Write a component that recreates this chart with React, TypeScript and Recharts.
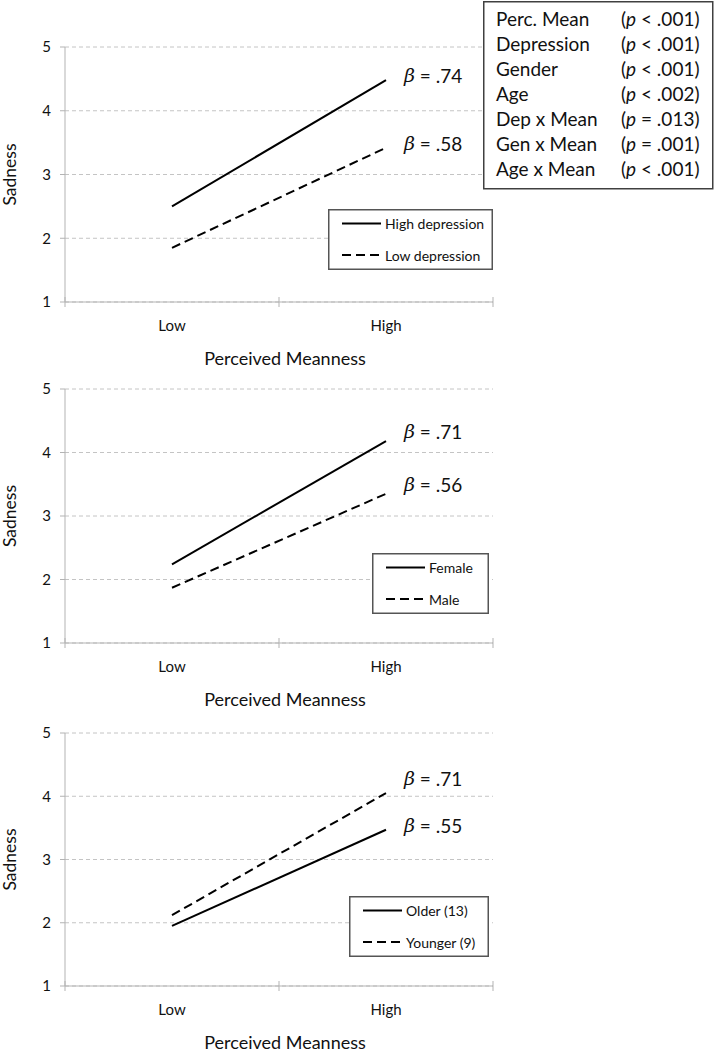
import React from 'react';
import { LineChart, Line, XAxis, YAxis, CartesianGrid, Legend, Label, LabelList } from 'recharts';

const FONT = 'Lato, "Open Sans", sans-serif';
const TEXT = '#111';
const AXIS = '#b3b3b3';
const GRID = '#c4c4c4';

// categories and ticks
const categories = ['Low', 'High'];
const yTicks = [1, 2, 3, 4, 5];
const xTicks = [0, 1, 2, 3, 4];

// series values (Sadness at Low / High perceived meanness)
const highDepression = [2.5, 4.48];
const lowDepression = [1.85, 3.42];
const female = [2.24, 4.18];
const male = [1.87, 3.35];
const older = [1.95, 3.47];
const younger = [2.12, 4.05];

// slope labels
const depBetas = ['.74', '.58'];
const genBetas = ['.71', '.56'];
const ageBetas = ['.55', '.71'];

// significance box
const termLabels = ['Perc. Mean', 'Depression', 'Gender', 'Age', 'Dep x Mean', 'Gen x Mean', 'Age x Mean'];
const pSigns = ['<', '<', '<', '<', '=', '=', '<'];
const pValues = ['.001', '.001', '.001', '.002', '.013', '.001', '.001'];

type Series = { name: string; values: number[]; beta: string; dashed: boolean; betaDy: number };

const buildData = (a: number[], b: number[]) =>
  categories.map((c, i) => ({ cat: c, pos: 2 * i + 1, a: a[i], b: b[i] }));

const XTick = (props: any) => {
  const { x, y, payload } = props;
  const v = payload.value;
  if (v % 2 === 1) {
    return (
      <text x={x} y={y + 23} textAnchor="middle" dominantBaseline="central" fontFamily={FONT} fontSize={15} fill={TEXT}>
        {categories[(v - 1) / 2]}
      </text>
    );
  }
  return <line x1={x} x2={x} y1={y - 5} y2={y + 5} stroke={AXIS} strokeWidth={1} />;
};

const BetaLabel = (beta: string, dy: number) => (p: any) => {
  if (p.index !== categories.length - 1) return null;
  const vb = p.viewBox || {};
  const x = vb.x ?? p.x;
  const y = vb.y ?? p.y;
  return (
    <text x={x + 18} y={y + dy} dominantBaseline="central" fontFamily={FONT} fontSize={19} fill={TEXT}>
      <tspan fontFamily="'DejaVu Serif', serif" fontStyle="italic">β</tspan>
      <tspan>{' = ' + beta}</tspan>
    </text>
  );
};

const LegendBox = ({ entries, width, height }: { entries: Series[]; width: number; height: number }) => (
  <svg width={width} height={height} style={{ display: 'block' }}>
    <rect x={0.75} y={0.75} width={width - 1.5} height={height - 1.5} fill="#fff" stroke="#555" strokeWidth={1.5} />
    {entries.map((e, i) => {
      const cy = 14.5 + i * 31.5;
      return (
        <g key={e.name}>
          <line x1={14} x2={53} y1={cy} y2={cy} stroke="#000" strokeWidth={2} strokeDasharray={e.dashed ? '9 5' : undefined} />
          <text x={57} y={cy} dominantBaseline="central" fontFamily={FONT} fontSize={14} fill={TEXT}>
            {e.name}
          </text>
        </g>
      );
    })}
  </svg>
);

type PanelProps = {
  top: number;
  height: number;
  xAxisHeight: number;
  solid: Series;
  dashed: Series;
  legendLeft: number;
  legendTop: number;
  legendWidth: number;
};

const Panel = ({ top, height, xAxisHeight, solid, dashed, legendLeft, legendTop, legendWidth }: PanelProps) => {
  const data = buildData(solid.values, dashed.values);
  return (
    <div style={{ position: 'absolute', left: 0, top }}>
      <LineChart width={715} height={height} data={data} margin={{ top: 47, right: 222, bottom: 0, left: 0 }}>
        <CartesianGrid vertical={false} stroke={GRID} strokeDasharray="4 3" />
        <XAxis
          dataKey="pos"
          type="number"
          domain={[0, 4]}
          ticks={xTicks}
          interval={0}
          height={xAxisHeight}
          axisLine={{ stroke: AXIS }}
          tickLine={false}
          tickSize={0}
          tickMargin={0}
          tick={<XTick />}
        >
          <Label
            content={(p: any) => {
              const vb = p.viewBox;
              return (
                <text x={vb.x + vb.width / 2 + 6} y={vb.y + 56} textAnchor="middle" dominantBaseline="central" fontFamily={FONT} fontSize={18} fill={TEXT}>
                  Perceived Meanness
                </text>
              );
            }}
          />
        </XAxis>
        <YAxis
          type="number"
          domain={[1, 5]}
          ticks={yTicks}
          interval={0}
          width={65}
          axisLine={{ stroke: AXIS }}
          tickLine={{ stroke: AXIS }}
          tickSize={5}
          tickMargin={9}
          tick={{ fill: TEXT, fontSize: 15, fontFamily: FONT }}
        >
          <Label
            content={(p: any) => {
              const vb = p.viewBox;
              const cx = vb.x + 16;
              const cy = vb.y + vb.height / 2;
              return (
                <text x={cx} y={cy} transform={`rotate(-90, ${cx}, ${cy})`} textAnchor="middle" fontFamily={FONT} fontSize={17.5} fill={TEXT}>
                  Sadness
                </text>
              );
            }}
          />
        </YAxis>
        <Legend
          layout="horizontal"
          verticalAlign="middle"
          wrapperStyle={{ left: legendLeft, top: legendTop, width: legendWidth, height: 61 }}
          content={() => <LegendBox entries={[solid, dashed]} width={legendWidth} height={61} />}
        />
        <Line
          dataKey="a"
          name={solid.name}
          stroke="#000"
          strokeWidth={2}
          dot={false}
          activeDot={false}
          isAnimationActive={false}
        >
          <LabelList dataKey="a" content={BetaLabel(solid.beta, solid.betaDy)} />
        </Line>
        <Line
          dataKey="b"
          name={dashed.name}
          stroke="#000"
          strokeWidth={2}
          strokeDasharray="9 5"
          dot={false}
          activeDot={false}
          isAnimationActive={false}
        >
          <LabelList dataKey="b" content={BetaLabel(dashed.beta, dashed.betaDy)} />
        </Line>
      </LineChart>
    </div>
  );
};

const PBox = () => (
  <svg width={232} height={190} style={{ position: 'absolute', left: 482, top: 0 }}>
    <rect x={1.75} y={1.75} width={229} height={187} fill="#fff" stroke="#404040" strokeWidth={1.5} />
    {termLabels.map((t, i) => (
      <g key={t}>
        <text x={14} y={26 + i * 25} fontFamily={FONT} fontSize={19} fill={TEXT}>
          {t}
        </text>
        <text x={139} y={26 + i * 25} fontFamily={FONT} fontSize={19} fill={TEXT}>
          (<tspan fontStyle="italic">p</tspan>
          {' ' + pSigns[i] + ' ' + pValues[i] + ')'}
        </text>
      </g>
    ))}
  </svg>
);

export default function App() {
  return (
    <div style={{ position: 'absolute', left: 0, top: 0, width: 715, height: 1050, background: '#fff', overflow: 'hidden' }}>
      <Panel
        top={0}
        height={375}
        xAxisHeight={73}
        solid={{ name: 'High depression', values: highDepression, beta: depBetas[0], dashed: false, betaDy: -5 }}
        dashed={{ name: 'Low depression', values: lowDepression, beta: depBetas[1], dashed: true, betaDy: -5 }}
        legendLeft={328}
        legendTop={209}
        legendWidth={165}
      />
      <Panel
        top={342}
        height={375}
        xAxisHeight={74}
        solid={{ name: 'Female', values: female, beta: genBetas[0], dashed: false, betaDy: -10 }}
        dashed={{ name: 'Male', values: male, beta: genBetas[1], dashed: true, betaDy: -10 }}
        legendLeft={372}
        legendTop={211}
        legendWidth={117}
      />
      <Panel
        top={686}
        height={364}
        xAxisHeight={64}
        solid={{ name: 'Older (13)', values: older, beta: ageBetas[0], dashed: false, betaDy: -5 }}
        dashed={{ name: 'Younger (9)', values: younger, beta: ageBetas[1], dashed: true, betaDy: -15 }}
        legendLeft={349}
        legendTop={210}
        legendWidth={140}
      />
      <PBox />
    </div>
  );
}
